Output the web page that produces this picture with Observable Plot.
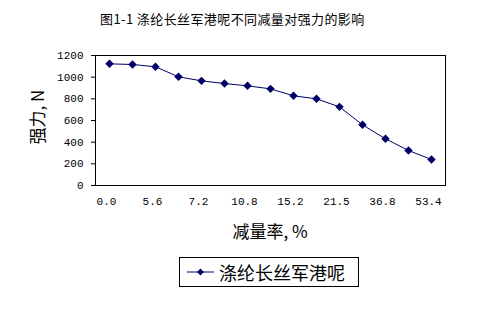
<!DOCTYPE html>
<html><head><meta charset="utf-8">
<script src="https://cdn.jsdelivr.net/npm/d3@7"></script>
<script src="https://cdn.jsdelivr.net/npm/@observablehq/plot@0.6"></script>
<style>
body{margin:0;background:#fff;}
#wrap{position:relative;width:497px;height:312px;overflow:hidden;font-family:"Noto Sans CJK SC",sans-serif;color:#000;}
#chart{position:absolute;left:0;top:0;}
.ov{position:absolute;white-space:nowrap;line-height:1;}
</style></head>
<body>
<div id="wrap">
  <div id="chart"></div>
  <div class="ov" id="title" style="left:100px;top:12px;font-size:13px;letter-spacing:0.4px;"></div>
  <div class="ov" id="ylab" style="left:36px;top:117px;font-size:17px;transform:translate(-50%,-50%) rotate(-90deg);"></div>
  <div class="ov" id="xlab" style="left:270px;top:230px;font-size:17px;transform:translate(-50%,-50%);"></div>
  <div class="ov" id="legend" style="left:179px;top:257px;width:178px;height:28px;border:1px solid #000;background:#fff;">
    <svg width="40" height="28" style="position:absolute;left:0;top:0;">
      <line x1="7" y1="14" x2="34" y2="14" stroke="#000066" stroke-width="1"/>
      <path d="M20.5,10.5 L24,14 L20.5,17.5 L17,14 Z" fill="#000066"/>
    </svg>
    <span id="legtext" style="position:absolute;left:39px;top:5px;font-size:18px;"></span>
  </div>
</div>
<script>
const titleText = "图1-1 涤纶长丝军港呢不同减量对强力的影响";
const yLabel = "强力, N";
const xLabel = "减量率, %";
const seriesName = "涤纶长丝军港呢";
const categories = ["0.0","2.6","5.6","6.4","7.2","9.1","10.8","13.0","15.2","18.3","21.5","29.4","36.8","45.1","53.4"];
const strength = [1123,1117,1096,1003,966,941,920,892,828,800,726,560,431,323,240];
const xTickLabels = ["0.0","5.6","7.2","10.8","15.2","21.5","36.8","53.4"];
const yTicks = [0,200,400,600,800,1000,1200];

document.getElementById("title").textContent = titleText;
document.getElementById("ylab").textContent = yLabel;
document.getElementById("xlab").textContent = xLabel;
document.getElementById("legtext").textContent = seriesName;

const data = categories.map((c,i)=>({c, v: strength[i]}));
const color = "#000066";
const chart = Plot.plot({
  width: 497, height: 312,
  marginLeft: 95, marginRight: 52, marginTop: 55, marginBottom: 127,
  style: {fontFamily: "Liberation Mono, monospace", fontSize: "11px", color: "#000", background: "transparent"},
  x: {type: "point", domain: categories, padding: 0.5},
  y: {domain: [0, 1200]},
  marks: [
    Plot.frame({stroke: "#000", strokeWidth: 1}),
    Plot.axisY({ticks: yTicks, tickFormat: d => String(d), tickSize: 4, tickPadding: 8, label: null, stroke: "#000"}),
    Plot.axisX({ticks: xTickLabels, tickSize: 0, tickPadding: 12, label: null, dx: -3}),
    Plot.line(data, {x: "c", y: "v", stroke: color, strokeWidth: 1}),
    Plot.dot(data, {x: "c", y: "v", symbol: "diamond2", r: 3.8, fill: color, stroke: "none"})
  ]
});
document.getElementById("chart").appendChild(chart);
</script>
</body></html>
